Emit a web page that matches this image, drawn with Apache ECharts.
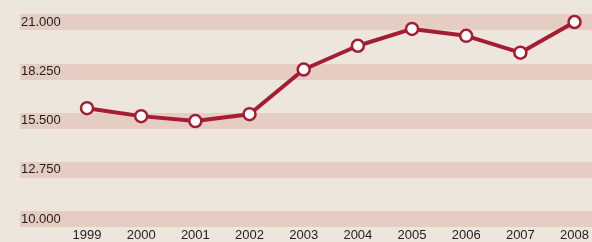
<!DOCTYPE html>
<html><head><meta charset="utf-8">
<script src="https://cdn.jsdelivr.net/npm/echarts@6/dist/echarts.min.js"></script>
<style>html,body{margin:0;padding:0;background:#ebe5da;}#c{width:592px;height:242px;}</style>
</head><body><div id="c"></div>
<script>
const categories = ['1999','2000','2001','2002','2003','2004','2005','2006','2007','2008'];
const values = [16.14, 15.69, 15.41, 15.80, 18.32, 19.66, 20.61, 20.22, 19.27, 21.0];
const yTicks = [10, 12.75, 15.5, 18.25, 21];

const chart = echarts.init(document.getElementById('c'));
chart.setOption({
  backgroundColor: '#ece6dc',
  animation: false,
  grid: [
    {left: 20, right: 0, top: 22, bottom: 23},
    {left: 87, right: 12, top: 22, bottom: 23}
  ],
  xAxis: [
    {type: 'category', gridIndex: 0, data: categories, show: false},
    {type: 'category', gridIndex: 1, data: categories, boundaryGap: false,
     axisLine: {show: false}, axisTick: {show: false},
     axisLabel: {margin: 12, color: '#222', fontSize: 13, fontFamily: 'Liberation Sans, Arial', interval: 0}}
  ],
  yAxis: [
    {type: 'value', gridIndex: 0, min: 10, max: 21, interval: 2.75,
     axisLine: {show: false},
     axisTick: {show: false, customValues: yTicks},
     axisLabel: {inside: true, margin: 1, color: '#222', fontSize: 13, fontFamily: 'Liberation Sans, Arial',
                 customValues: yTicks, formatter: v => v.toFixed(3)},
     splitLine: {show: true, lineStyle: {color: 'rgba(210,135,125,0.26)', width: 16}}},
    {type: 'value', gridIndex: 1, min: 10, max: 21, show: false, splitLine: {show: false}}
  ],
  series: [{
    type: 'line', xAxisIndex: 1, yAxisIndex: 1, data: values,
    symbol: 'circle', symbolSize: 12,
    lineStyle: {color: '#a51d34', width: 4},
    itemStyle: {color: '#ffffff', borderColor: '#a51d34', borderWidth: 2.5}
  }]
});
</script></body></html>
